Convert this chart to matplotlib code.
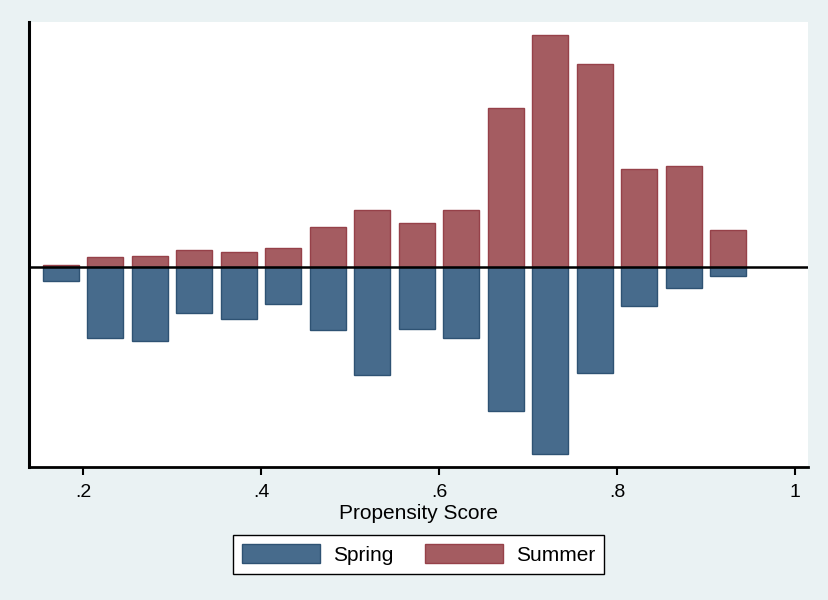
import matplotlib
matplotlib.use("Agg")
import matplotlib.pyplot as plt
from matplotlib.patches import Patch
import numpy as np

# Bin centres of the propensity score histogram
bin_centers = [0.175, 0.225, 0.275, 0.325, 0.375, 0.425, 0.475, 0.525,
               0.575, 0.625, 0.675, 0.725, 0.775, 0.825, 0.875, 0.925]
# Densities (Summer drawn upward, Spring drawn downward)
summer_density = [0.025, 0.171, 0.189, 0.298, 0.262, 0.335, 0.716, 1.025,
                  0.789, 1.025, 2.880, 4.213, 3.685, 1.776, 1.831, 0.662]
spring_density = [0.265, 1.302, 1.351, 0.842, 0.945, 0.684, 1.156, 1.964,
                  1.133, 1.291, 2.624, 3.405, 1.938, 0.715, 0.393, 0.164]
x_ticks = [0.2, 0.4, 0.6, 0.8, 1.0]
x_tick_labels = [".2", ".4", ".6", ".8", "1"]

spring_face, spring_edge = "#476B8C", "#2E5273"
summer_face, summer_edge = "#A45C61", "#964149"
bg = "#EAF2F3"

plt.rcParams['font.family'] = ['Liberation Sans', 'DejaVu Sans']

fig = plt.figure(figsize=(8.29, 6.0), dpi=100, facecolor=bg)
ax = fig.add_axes([29/829, 1-467/600, (808-29)/829, (467-22)/600])
ax.set_facecolor("white")

width = 0.0405
ax.bar(bin_centers, summer_density, width=width, color=summer_face,
       edgecolor=summer_edge, linewidth=1.0, zorder=2)
ax.bar(bin_centers, [-v for v in spring_density], width=width, color=spring_face,
       edgecolor=spring_edge, linewidth=1.0, zorder=2)
ax.axhline(0, color="black", linewidth=1.8, zorder=3)

ax.set_xlim(0.1393, 1.0146)
ax.set_ylim(-200.3/55, 244.7/55)
ax.set_yticks([])
ax.set_xticks(x_ticks)
ax.set_xticklabels(x_tick_labels, fontsize=14)
ax.tick_params(axis='x', length=6, width=1.5, pad=6, colors='black')
for s in ['top', 'right']:
    ax.spines[s].set_visible(False)
ax.spines['left'].set_linewidth(2.2)
ax.spines['bottom'].set_linewidth(2.0)
ax.set_xlabel("Propensity Score", fontsize=15, labelpad=2.5)

fs = 15
px = fs * 100 / 72
handles = [Patch(facecolor=spring_face, edgecolor=spring_edge, label="Spring"),
           Patch(facecolor=summer_face, edgecolor=summer_edge, label="Summer")]
leg = fig.legend(handles=handles, loc='center', bbox_to_anchor=(418.5/829, 1-554.5/600),
                 ncol=2, fontsize=fs, handlelength=78/px, handleheight=21/px,
                 handletextpad=13/px, columnspacing=32/px, borderpad=0.43,
                 fancybox=False, framealpha=1, edgecolor='black')
leg.get_frame().set_linewidth(1.0)

fig.savefig("out.png", dpi=100, facecolor=bg)
